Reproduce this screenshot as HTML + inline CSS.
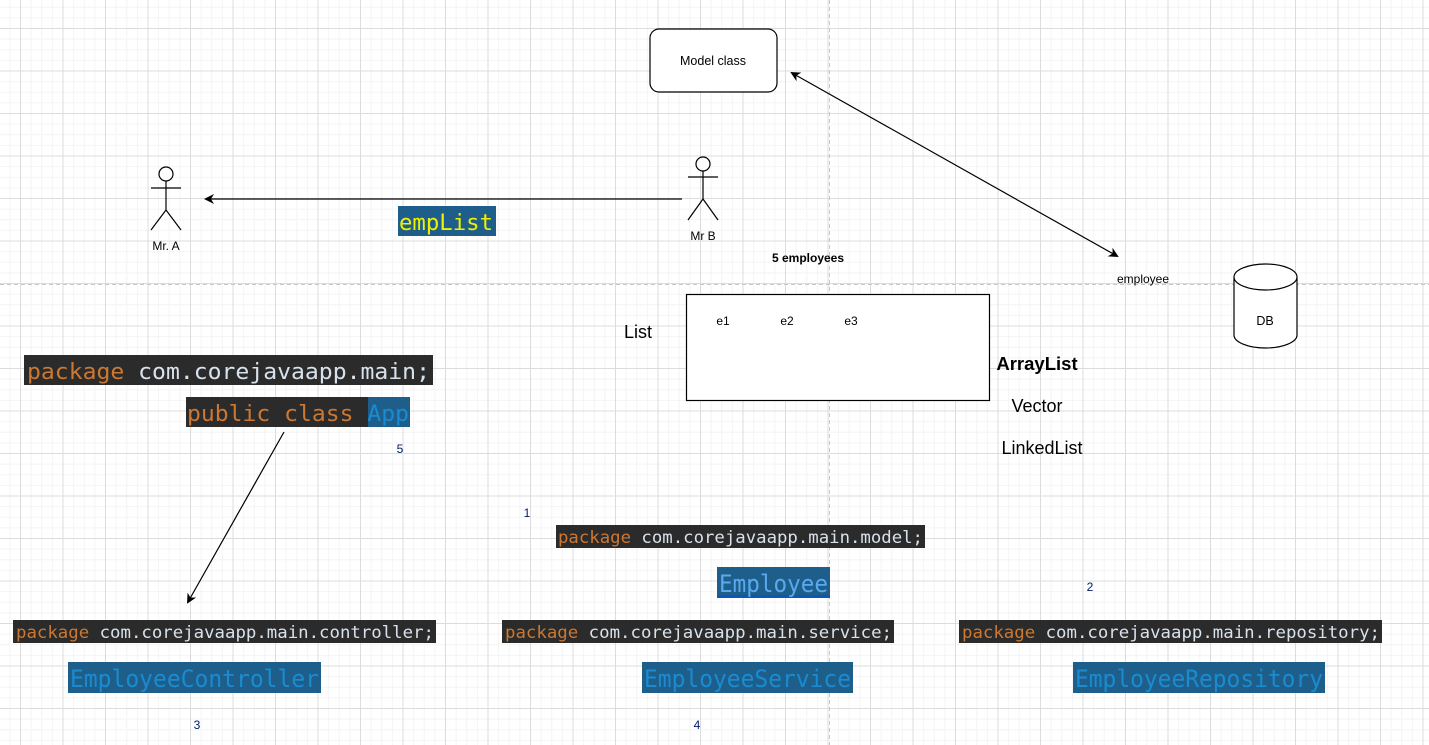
<!DOCTYPE html>
<html><head><meta charset="utf-8"><style>
html,body{margin:0;padding:0;background:#fff;}
svg{display:block;}
.m{font-family:"DejaVu Sans Mono","Liberation Mono",monospace;}
.s{font-family:"Liberation Sans",Arial,sans-serif;}
</style></head><body>
<svg width="1429" height="745" viewBox="0 0 1429 745" xmlns="http://www.w3.org/2000/svg">
<defs>
<pattern id="minor" width="10.625" height="10.625" patternUnits="userSpaceOnUse" x="20" y="28">
<path d="M0 0.5H10.625M0.5 0V10.625" stroke="#f4f4f4" stroke-width="1" fill="none"/>
</pattern>
<pattern id="major" width="42.5" height="42.5" patternUnits="userSpaceOnUse" x="20" y="28">
<path d="M0 0.5H42.5M0.5 0V42.5" stroke="#dcdcdc" stroke-width="1" fill="none"/>
</pattern>
<marker id="ah" markerWidth="10" markerHeight="10" refX="8" refY="5" orient="auto" markerUnits="userSpaceOnUse">
<path d="M0 0L10 5L0 10L3 5Z" fill="#000"/>
</marker>
<marker id="ahs" markerWidth="10" markerHeight="10" refX="2" refY="5" orient="auto" markerUnits="userSpaceOnUse">
<path d="M10 0L0 5L10 10L7 5Z" fill="#000"/>
</marker>
</defs>
<rect width="1429" height="745" fill="#fff"/>
<rect width="1429" height="745" fill="url(#minor)"/>
<rect width="1429" height="745" fill="url(#major)"/>
<line x1="829.5" y1="0" x2="829.5" y2="745" stroke="#c8c8c8" stroke-dasharray="4 3"/>
<line x1="0" y1="284.5" x2="1429" y2="284.5" stroke="#c8c8c8" stroke-dasharray="4 3"/>

<rect x="650" y="29" width="127" height="63" rx="9" fill="#fff" stroke="#000" stroke-width="1.2"/>
<text class="s" x="713" y="65" font-size="12.5" text-anchor="middle">Model class</text>
<line x1="792" y1="73" x2="1117" y2="256" stroke="#000" stroke-width="1.2" marker-start="url(#ahs)" marker-end="url(#ah)"/>

<g stroke="#000" stroke-width="1.2" fill="#fff">
<circle cx="166" cy="174" r="7"/>
<line x1="166" y1="181" x2="166" y2="210"/><line x1="151" y1="188" x2="181" y2="188"/>
<line x1="166" y1="210" x2="151" y2="230"/><line x1="166" y1="210" x2="181" y2="230"/>
<circle cx="703" cy="164" r="7"/>
<line x1="703" y1="171" x2="703" y2="199"/><line x1="688" y1="177" x2="718" y2="177"/>
<line x1="703" y1="199" x2="688" y2="220"/><line x1="703" y1="199" x2="718" y2="220"/>
</g>
<text class="s" x="166" y="250" font-size="12" text-anchor="middle">Mr. A</text>
<text class="s" x="703" y="240" font-size="12" text-anchor="middle">Mr B</text>
<line x1="682" y1="199" x2="206" y2="199" stroke="#000" stroke-width="1.2" marker-end="url(#ah)"/>
<rect x="398" y="206" width="98" height="30" fill="#1d5f8a"/>
<text class="m" x="399" y="230" font-size="22" fill="#f0f000" textLength="94" lengthAdjust="spacingAndGlyphs">empList</text>

<text class="s" x="808" y="262" font-size="12" font-weight="bold" text-anchor="middle">5 employees</text>
<text class="s" x="1143" y="283" font-size="12" text-anchor="middle">employee</text>

<path d="M1234 277V335A31.5 13 0 0 0 1297 335V277" fill="#fff" stroke="#000" stroke-width="1.2"/>
<ellipse cx="1265.5" cy="277" rx="31.5" ry="13" fill="#fff" stroke="#000" stroke-width="1.2"/>
<text class="s" x="1265" y="325" font-size="12.5" text-anchor="middle">DB</text>

<rect x="686.5" y="294.5" width="303" height="106" fill="#fff" stroke="#000" stroke-width="1.2"/>
<text class="s" x="723" y="325" font-size="12" text-anchor="middle">e1</text>
<text class="s" x="787" y="325" font-size="12" text-anchor="middle">e2</text>
<text class="s" x="851" y="325" font-size="12" text-anchor="middle">e3</text>
<text class="s" x="638" y="338" font-size="18" text-anchor="middle">List</text>
<text class="s" x="1037" y="370" font-size="18.5" font-weight="bold" text-anchor="middle">ArrayList</text>
<text class="s" x="1037" y="412" font-size="18" text-anchor="middle">Vector</text>
<text class="s" x="1042" y="454" font-size="18" text-anchor="middle">LinkedList</text>

<rect x="24" y="355" width="409" height="30" fill="#2b2b2b"/>
<text class="m" x="27" y="379" font-size="22" fill="#d8e2ec" textLength="403" lengthAdjust="spacingAndGlyphs"><tspan fill="#cc7832">package</tspan> com.corejavaapp.main;</text>
<rect x="186" y="397" width="224" height="30" fill="#2b2b2b"/>
<rect x="368" y="397" width="42" height="30" fill="#1d5f8a"/>
<text class="m" x="187" y="421" font-size="22" fill="#cc7832" textLength="222" lengthAdjust="spacingAndGlyphs">public class <tspan fill="#1a8bd0">App</tspan></text>
<line x1="284" y1="432" x2="188" y2="602" stroke="#000" stroke-width="1.2" marker-end="url(#ah)"/>

<rect x="556" y="525" width="369" height="23" fill="#2b2b2b"/>
<text class="m" x="558" y="543" font-size="17" fill="#d8e2ec" textLength="365" lengthAdjust="spacingAndGlyphs"><tspan fill="#cc7832">package</tspan> com.corejavaapp.main.model;</text>
<rect x="717" y="567" width="113" height="31" fill="#1d5f8a"/>
<rect x="717" y="595" width="113" height="3" fill="#0a56c0"/>
<text class="m" x="719" y="592" font-size="24" fill="#5aa8ee" textLength="109" lengthAdjust="spacingAndGlyphs">Employee</text>

<rect x="13" y="620" width="423" height="23" fill="#2b2b2b"/>
<text class="m" x="16" y="638" font-size="17" fill="#d8e2ec" textLength="418" lengthAdjust="spacingAndGlyphs"><tspan fill="#cc7832">package</tspan> com.corejavaapp.main.controller;</text>
<rect x="68" y="662" width="253" height="31" fill="#1d5f8a"/>
<text class="m" x="70" y="687" font-size="24" fill="#1a8bd0" textLength="249" lengthAdjust="spacingAndGlyphs">EmployeeController</text>

<rect x="502" y="620" width="392" height="23" fill="#2b2b2b"/>
<text class="m" x="505" y="638" font-size="17" fill="#d8e2ec" textLength="387" lengthAdjust="spacingAndGlyphs"><tspan fill="#cc7832">package</tspan> com.corejavaapp.main.service;</text>
<rect x="642" y="662" width="211" height="31" fill="#1d5f8a"/>
<text class="m" x="644" y="687" font-size="24" fill="#1a8bd0" textLength="207" lengthAdjust="spacingAndGlyphs">EmployeeService</text>

<rect x="959" y="620" width="423" height="23" fill="#2b2b2b"/>
<text class="m" x="962" y="638" font-size="17" fill="#d8e2ec" textLength="418" lengthAdjust="spacingAndGlyphs"><tspan fill="#cc7832">package</tspan> com.corejavaapp.main.repository;</text>
<rect x="1073" y="662" width="252" height="31" fill="#1d5f8a"/>
<text class="m" x="1075" y="687" font-size="24" fill="#1a8bd0" textLength="248" lengthAdjust="spacingAndGlyphs">EmployeeRepository</text>

<g class="s" font-size="12" fill="#001a66" text-anchor="middle">
<text x="400" y="453">5</text>
<text x="527" y="517">1</text>
<text x="1090" y="591">2</text>
<text x="197" y="729">3</text>
<text x="697" y="729">4</text>
</g>
</svg>
</body></html>
